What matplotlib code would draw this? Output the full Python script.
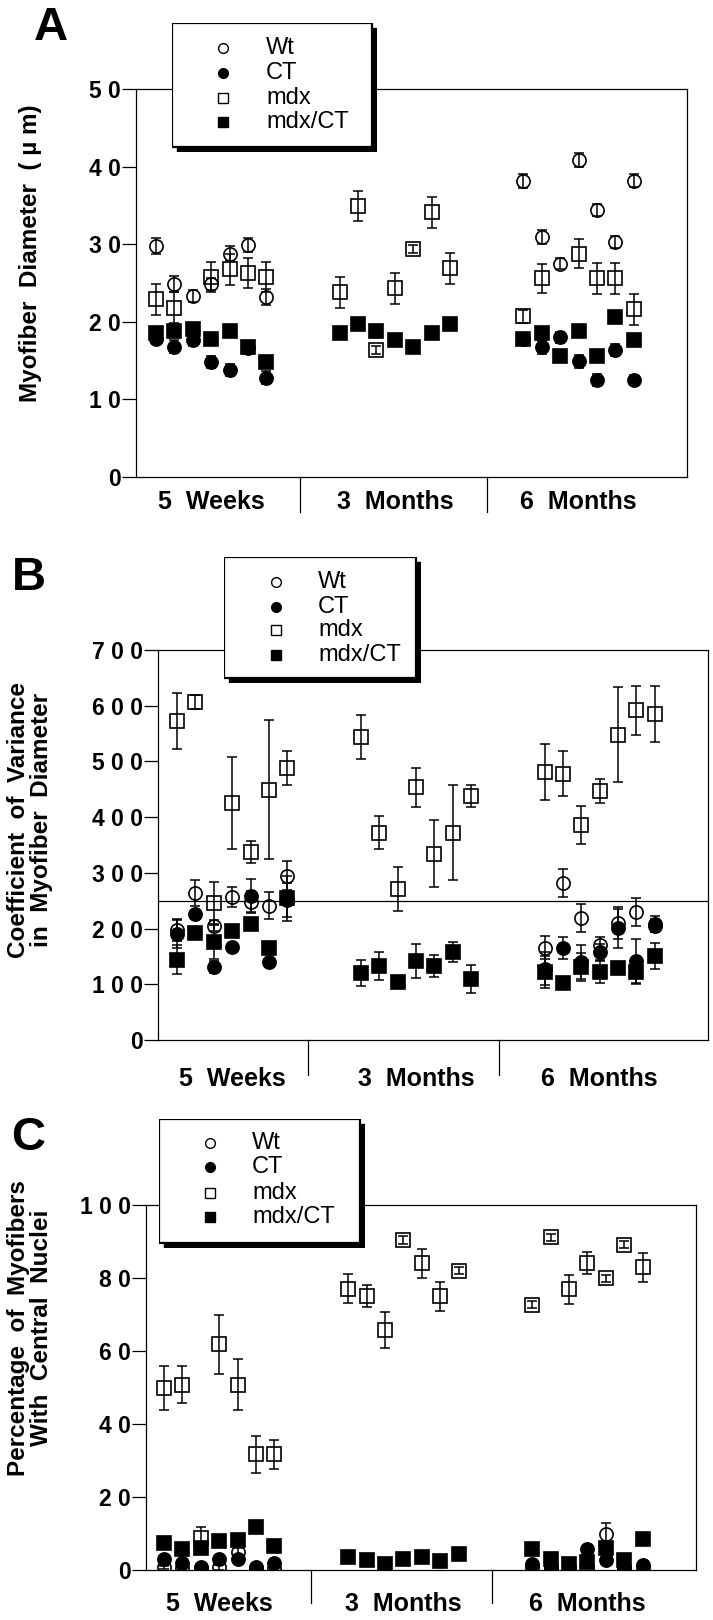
import numpy as np
import matplotlib.pyplot as plt
from matplotlib.patches import Rectangle

plt.rcParams['font.family'] = ['Liberation Sans', 'DejaVu Sans']

nan = np.nan
W, H = 713, 1620

# 7 muscles per age group
x_pos = list(range(0, 7)) + list(range(10, 17)) + list(range(20, 27))
groups = ['5  Weeks', '3  Months', '6  Months']
group_centers = [3, 13, 23]
series_names = ['Wt', 'CT', 'mdx', 'mdx/CT']

# A: myofiber diameter (um)
a_wt = [29.8, 24.9, 23.3, 24.9, 28.8, 29.9, 23.2] + [nan] * 7 + [38.2, 30.9, 27.5, 40.8, 34.4, 30.3, 38.2]
a_wt_err = [1.0, 1.0, 0.8, 0.8, 1.0, 0.9, 1.0] + [nan] * 7 + [0.9, 0.9, 0.7, 0.9, 0.8, 0.8, 0.8]
a_ct = [17.8, 16.8, 17.6, 14.8, 13.8, 16.6, 12.8] + [nan] * 7 + [17.8, 16.7, 18.0, 14.9, 12.5, 16.4, 12.5]
a_ct_err = [0.7, 0.8, 0.7, 0.8, 0.8, 0.7, 0.8] + [nan] * 7 + [0.7, 0.8, 0.7, 0.8, 0.8, 0.8, 0.7]
a_mdx = [22.9, 21.8, nan, 25.8, 26.8, 26.3, 25.8, 23.8, 34.9, 16.4, 24.3, 29.4, 34.1, 26.9,
         20.7, 25.6, nan, 28.8, 25.6, 25.6, 21.6]
a_mdx_err = [2.0, 2.0, nan, 1.9, 2.0, 1.9, 1.9, 2.0, 1.9, 0.5, 2.0, 0.5, 2.0, 2.0,
             0.8, 1.9, nan, 1.9, 2.0, 2.0, 2.0]
a_mct = [18.6, 18.8, 19.1, 17.8, 18.8, 16.8, 14.8, 18.5, 19.7, 18.8, 17.7, 16.7, 18.6, 19.7,
         17.8, 18.6, 15.6, 18.8, 15.6, 20.6, 17.7]
a_mct_err = [0.7] * 21

# B: coefficient of variance
b_wt = [197, 264, 205, 257, 248, 241, 295] + [nan] * 7 + [166, 282, 219, 170, 210, 230, 205]
b_wt_err = [20, 23, 10, 18, 20, 24, 26] + [nan] * 7 + [20, 25, 25, 15, 28, 25, 12]
b_ct = [190, 226, 131, 167, 259, 140, 251] + [nan] * 7 + [128, 165, 140, 158, 201, 142, 208]
b_ct_err = [25, 8, 10, 8, 30, 8, 30] + [nan] * 7 + [30, 20, 30, 15, 35, 40, 15]
b_mdx = [573, 607, 246, 425, 338, 449, 488, 544, 372, 271, 454, 334, 372, 438,
         481, 478, 386, 447, 548, 592, 585]
b_mdx_err = [50, 13, 37, 83, 20, 125, 30, 40, 30, 40, 35, 60, 85, 20,
             50, 40, 34, 21, 85, 44, 50]
b_mct = [144, 192, 176, 196, 208, 165, 254, 120, 133, 104, 142, 133, 158, 109,
         122, 102, 131, 122, 129, 122, 151]
b_mct_err = [26, 8, 30, 8, 8, 8, 40, 23, 25, 8, 30, 20, 18, 25,
             28, 6, 25, 20, 8, 22, 24]

# C: % myofibers with central nuclei
c_wt = [0.7, 0.5, 0.5, 0.7, 5.0, 0.5, 0.5] + [nan] * 7 + [0.8, 0.6, 0.5, 0.8, 9.8, 0.5, 0.8]
c_wt_err = [0.5, 0.3, 0.3, 0.8, 1.0, 0.3, 0.3] + [nan] * 7 + [0.3, 0.3, 0.3, 0.3, 3.0, 0.3, 0.3]
c_ct = [2.9, 1.8, 0.7, 2.9, 2.9, 0.7, 1.8] + [nan] * 7 + [1.7, 0.9, 0.8, 5.7, 2.8, 0.9, 1.4]
c_ct_err = [0.5] * 7 + [nan] * 7 + [0.5] * 7
c_mdx = [49.9, 50.8, 8.7, 61.8, 50.8, 31.7, 31.7, 77.1, 75.0, 65.8, 90.4, 84.0, 75.0, 82.0,
         72.7, 91.1, 76.9, 84.0, 79.9, 89.1, 82.9]
c_mdx_err = [6, 5, 3, 8, 7, 5, 4, 4, 3, 5, 1, 4, 4, 1, 1, 1, 4, 3, 1, 1, 4]
c_mct = [7.3, 5.8, 6.0, 8.0, 8.3, 11.7, 6.7, 3.5, 2.8, 1.6, 2.9, 3.5, 2.6, 4.4,
         5.7, 2.9, 1.6, 2.3, 6.0, 2.8, 8.5]
c_mct_err = [0.6] * 21

styles = {
    'Wt': dict(marker='o', mfc='none'),
    'CT': dict(marker='o', mfc='k'),
    'mdx': dict(marker='s', mfc='none'),
    'mdx/CT': dict(marker='s', mfc='k'),
}

fig = plt.figure(figsize=(W / 100, H / 100), dpi=100)


def box(x0, y0, x1, y1):
    return [x0 / W, 1 - y1 / H, (x1 - x0) / W, (y1 - y0) / H]


def panel(rect, series, ymax, yticks, yticklabels, xlim, dividers, lab_off,
          letter, letter_xy, leg, ylabel, ylabel_xy):
    ax = fig.add_axes(box(*rect))
    order = ['mdx', 'Wt', 'CT', 'mdx/CT']
    for name in order:
        y, e = series[name]
        st = styles[name]
        ax.errorbar(x_pos, y, yerr=e, fmt='none', ecolor='k', elinewidth=1.1,
                    capsize=3.5, capthick=1.1, zorder=2)
        ax.plot(x_pos, y, ls='none', marker=st['marker'], ms=9.5, mfc=st['mfc'],
                mec='k', mew=1.2, zorder=3)
    ax.set_xlim(*xlim)
    ax.set_ylim(0, ymax)
    ax.set_yticks(yticks)
    ax.set_yticklabels(yticklabels, fontsize=16.5, fontweight='bold')
    ax.tick_params(axis='y', direction='out', length=10, width=0.9, pad=1)
    ax.tick_params(axis='x', bottom=False, labelbottom=False)
    for s in ax.spines.values():
        s.set_linewidth(0.9)
    tr = ax.get_xaxis_transform()
    for d in dividers:
        ax.plot([d, d], [0, -0.09], color='k', lw=0.9, transform=tr, clip_on=False)
    for g, c in zip(groups, group_centers):
        ax.text(c, -lab_off, g, transform=tr, ha='center', va='center',
                fontsize=18, fontweight='bold')

    fig.text(letter_xy[0] / W, 1 - letter_xy[1] / H, letter, fontsize=34,
             fontweight='bold', ha='left', va='top')
    fig.text(ylabel_xy[0] / W, 1 - ylabel_xy[1] / H, ylabel, rotation=90,
             ha='center', va='center', fontsize=17.5, fontweight='bold',
             linespacing=1.05)

    # legend box with drop shadow
    lx0, ly0, lx1, ly1, mx, tx, rows = leg
    sh = 5
    lax = fig.add_axes(box(lx0, ly0, lx1 + sh, ly1 + sh), zorder=5)
    lax.set_xlim(0, lx1 + sh - lx0)
    lax.set_ylim(ly1 + sh - ly0, 0)
    lax.axis('off')
    lax.add_patch(Rectangle((sh, sh), lx1 - lx0, ly1 - ly0, fc='k', ec='k'))
    lax.add_patch(Rectangle((0, 0), lx1 - lx0, ly1 - ly0, fc='w', ec='k', lw=1.6))
    for name, ry in zip(series_names, rows):
        st = styles[name]
        lax.plot([mx - lx0], [ry - ly0], ls='none', marker=st['marker'], ms=7,
                 mfc=st['mfc'], mec='k', mew=1.0)
        lax.text(tx - lx0, ry - ly0, name, fontsize=17, ha='left', va='center')
    return ax


panel((136, 89, 687, 477),
      {'Wt': (a_wt, a_wt_err), 'CT': (a_ct, a_ct_err),
       'mdx': (a_mdx, a_mdx_err), 'mdx/CT': (a_mct, a_mct_err)},
      50, [0, 10, 20, 30, 40, 50], ['0', '1 0', '2 0', '3 0', '4 0', '5 0'],
      (-1.09, 28.9), [7.85, 18.0], 0.065, 'A', (34, 6),
      (172, 23, 372, 147, 223, 266, [48, 73, 98, 122]),
      'Myofiber  Diameter  ( µ m)', (31, 253))

axb = panel((158, 650, 708, 1040),
            {'Wt': (b_wt, b_wt_err), 'CT': (b_ct, b_ct_err),
             'mdx': (b_mdx, b_mdx_err), 'mdx/CT': (b_mct, b_mct_err)},
            700, [0, 100, 200, 300, 400, 500, 600, 700],
            ['0', '1 0 0', '2 0 0', '3 0 0', '4 0 0', '5 0 0', '6 0 0', '7 0 0'],
            (-1.04, 28.9), [7.1, 17.5], 0.1, 'B', (12, 556),
            (224, 557, 416, 678, 276, 318, [582, 607, 630, 655]),
            'Coefficient  of  Variance\nin  Myofiber  Diameter', (30, 820))
axb.axhline(250, color='k', lw=0.9, zorder=1)

panel((146, 1205, 696, 1570),
      {'Wt': (c_wt, c_wt_err), 'CT': (c_ct, c_ct_err),
       'mdx': (c_mdx, c_mdx_err), 'mdx/CT': (c_mct, c_mct_err)},
      100, [0, 20, 40, 60, 80, 100], ['0', '2 0', '4 0', '6 0', '8 0', '1 0 0'],
      (-0.98, 28.9), [8.0, 17.8], 0.093, 'C', (11, 1116),
      (159, 1119, 360, 1243, 210, 252, [1143, 1167, 1193, 1217]),
      'Percentage  of  Myofibers\nWith  Central  Nuclei', (30, 1328))

fig.savefig('out.png', dpi=100)
